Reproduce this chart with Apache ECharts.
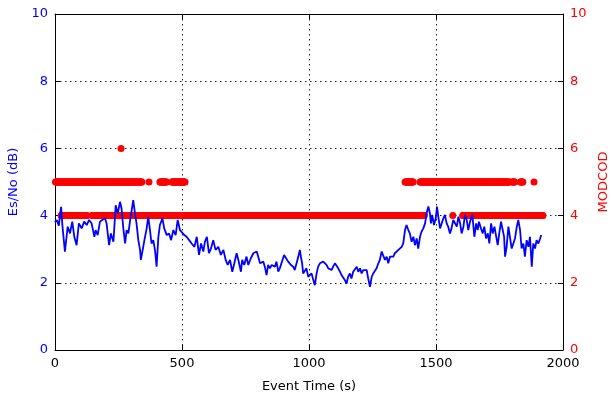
<!DOCTYPE html>
<html>
<head>
<meta charset="utf-8">
<script src="https://cdn.jsdelivr.net/npm/echarts@6/dist/echarts.min.js"></script>
<style>
  html, body { margin: 0; padding: 0; background: #fff; }
  #chart { width: 611px; height: 398px; }
</style>
</head>
<body>
<div id="chart"></div>
<script>
// ===== data =====
const X_TICKS = [0, 500, 1000, 1500, 2000];
const Y_TICKS = [0, 2, 4, 6, 8, 10];

// Es/No (dB) vs event time (s)
const esnoTime = [
  0, 7, 15, 24, 29, 39, 50, 59, 68, 76, 85, 94, 105, 115, 125, 134, 144, 155, 160, 168,
  177, 186, 197, 203, 213, 220, 230, 239, 247, 256, 262, 269, 276, 282, 289, 295, 302, 308, 315, 321,
  328, 335, 338, 344, 352, 361, 367, 374, 380, 387, 394, 400, 407, 413, 423, 430, 440, 449, 457, 466,
  475, 483, 492, 499, 509, 518, 528, 538, 549, 558, 567, 575, 584, 590, 598, 606, 614, 623, 632, 643,
  653, 663, 672, 680, 689, 698, 706, 715, 722, 732, 737, 745, 754, 761, 771, 781, 787, 794, 800, 807,
  813, 820, 826, 833, 839, 846, 853, 859, 866, 872, 879, 885, 892, 902, 908, 918, 929, 938, 944, 951,
  958, 964, 968, 973, 977, 984, 990, 997, 1003, 1010, 1017, 1023, 1030, 1036, 1043, 1049, 1056, 1062, 1069, 1076,
  1082, 1089, 1095, 1102, 1108, 1115, 1122, 1128, 1135, 1141, 1148, 1154, 1161, 1167, 1174, 1181, 1188, 1194, 1201, 1207,
  1214, 1220, 1227, 1233, 1240, 1247, 1253, 1260, 1266, 1273, 1279, 1286, 1293, 1299, 1306, 1312, 1319, 1325, 1332, 1338,
  1345, 1352, 1358, 1365, 1371, 1378, 1384, 1391, 1397, 1404, 1411, 1417, 1424, 1430, 1437, 1443, 1450, 1457, 1463, 1470,
  1476, 1480, 1485, 1492, 1499, 1504, 1509, 1516, 1522, 1529, 1535, 1542, 1548, 1555, 1561, 1568, 1575, 1582, 1588, 1595,
  1601, 1608, 1614, 1621, 1627, 1634, 1643, 1651, 1658, 1664, 1669, 1677, 1684, 1690, 1697, 1704, 1710, 1717, 1723, 1730,
  1736, 1743, 1749, 1756, 1761, 1768, 1772, 1778, 1785, 1791, 1798, 1805, 1811, 1818, 1824, 1831, 1837, 1844, 1850, 1857,
  1864, 1870, 1877, 1883, 1890, 1896, 1903, 1910, 1914,
];
const esnoDb = [
  3.80, 3.87, 3.70, 4.26, 3.72, 2.93, 3.67, 3.47, 3.82, 3.37, 3.12, 3.77, 3.62, 3.82, 3.72, 3.87, 3.77, 3.37, 3.57, 3.42,
  3.82, 3.87, 3.92, 3.77, 3.12, 3.47, 3.22, 4.31, 4.06, 4.41, 4.21, 3.62, 3.17, 3.57, 3.47, 3.82, 4.16, 4.46, 4.06, 3.77,
  3.27, 2.97, 2.68, 2.93, 3.27, 3.62, 3.97, 3.57, 3.17, 3.27, 2.95, 2.48, 3.37, 3.72, 3.92, 3.62, 3.42, 3.47, 3.27, 3.57,
  3.42, 3.87, 3.57, 3.62, 3.42, 3.37, 3.27, 3.17, 3.07, 3.37, 2.83, 3.17, 2.93, 3.22, 3.37, 2.88, 3.02, 3.27, 2.98, 3.07,
  2.83, 2.98, 2.68, 2.53, 2.68, 2.33, 2.58, 2.88, 2.68, 2.33, 2.68, 2.53, 2.78, 2.53, 2.73, 2.88, 2.83, 2.93, 2.78, 2.58,
  2.53, 2.63, 2.48, 2.23, 2.53, 2.43, 2.53, 2.58, 2.48, 2.63, 2.33, 2.43, 2.38, 2.83, 2.78, 2.63, 2.53, 2.48, 2.38, 2.43,
  2.78, 2.98, 2.78, 2.58, 2.28, 2.33, 2.43, 2.18, 2.13, 2.28, 2.08, 1.93, 2.28, 2.48, 2.58, 2.53, 2.63, 2.58, 2.53, 2.43,
  2.48, 2.38, 2.48, 2.58, 2.53, 2.43, 2.33, 2.23, 2.18, 2.08, 1.98, 2.18, 2.28, 2.13, 2.33, 2.28, 2.48, 2.33, 2.43, 2.28,
  2.38, 2.33, 2.38, 2.13, 1.88, 2.18, 2.28, 2.33, 2.43, 2.58, 2.68, 2.93, 2.88, 2.68, 2.78, 2.58, 2.78, 2.83, 2.78, 2.88,
  2.93, 2.98, 2.93, 3.07, 3.17, 3.57, 3.72, 3.57, 3.47, 3.22, 3.37, 3.12, 3.32, 3.02, 3.37, 3.52, 3.62, 3.77, 4.07, 4.27,
  4.07, 3.77, 4.02, 3.72, 3.92, 4.27, 3.97, 3.62, 3.67, 3.92, 4.02, 3.77, 3.67, 3.47, 3.62, 3.87, 3.82, 3.67, 3.97, 3.77,
  3.47, 3.67, 4.02, 3.87, 3.57, 3.82, 4.02, 3.37, 3.77, 3.57, 3.82, 3.62, 3.47, 3.67, 3.32, 3.47, 3.17, 3.77, 3.47, 3.67,
  3.42, 3.12, 3.47, 3.82, 3.87, 3.37, 2.78, 3.07, 3.67, 3.37, 3.02, 2.98, 3.32, 3.67, 3.87, 3.57, 3.02, 3.17, 2.78, 3.27,
  3.07, 3.37, 2.48, 3.17, 3.02, 3.27, 3.17, 3.32, 3.42,
];

// MODCOD log, run-length encoded: [first sample, last sample] in s for each level
const MODCOD_DT = 2;
const modcod4 = [[24, 126], [146, 189], [197, 250], [260, 316], [324, 1455], [1566, 1566], [1605, 1922]];
const modcod5 = [[2, 342], [370, 370], [413, 440], [460, 512], [1378, 1410], [1437, 1790], [1800, 1810], [1832, 1842], [1886, 1886]];
const modcod6 = [[260, 260]];

// ---- helpers ----
const BLUE = '#0000ff', RED = '#ff0000', FONT = 'DejaVu Sans';
const samples = (runs, lvl) => runs.flatMap(([a, b]) => {
  const out = [];
  for (let t = a; t <= b; t += MODCOD_DT) out.push([t, lvl]);
  return out;
});
const plain = v => String(v);
const frame = { show: true, onZero: false, lineStyle: { color: '#000', width: 1 } };
const tick = { show: true, inside: true, length: 5, lineStyle: { color: '#000' } };
const grid = { show: true, lineStyle: { color: '#222', width: 1, type: [1.5, 3.5] } };

const chart = echarts.init(document.getElementById('chart'), null, { renderer: 'canvas' });
chart.setOption({
  animation: false,
  textStyle: { fontFamily: FONT },
  grid: { left: 55, right: 48, top: 14, bottom: 48, containLabel: false, outerBoundsMode: 'none' },
  xAxis: [
    {
      type: 'value', min: X_TICKS[0], max: X_TICKS[X_TICKS.length - 1], interval: 500,
      name: 'Event Time (s)', nameLocation: 'middle', nameGap: 30,
      nameTextStyle: { color: '#000', fontSize: 13, fontFamily: FONT },
      axisLine: frame, axisTick: tick, splitLine: grid,
      axisLabel: { color: '#000', fontSize: 13, margin: 7, fontFamily: FONT, formatter: plain },
    },
    {
      type: 'value', position: 'top', min: 0, max: 2000, interval: 500,
      axisLine: frame, axisTick: tick, splitLine: { show: false }, axisLabel: { show: false },
    },
  ],
  yAxis: [
    {
      type: 'value', position: 'left', min: Y_TICKS[0], max: Y_TICKS[Y_TICKS.length - 1], interval: 2,
      name: 'Es/No (dB)', nameLocation: 'middle', nameGap: 34,
      nameTextStyle: { color: BLUE, fontSize: 13, fontFamily: FONT },
      axisLine: frame, axisTick: tick, splitLine: grid,
      axisLabel: { color: BLUE, fontSize: 13, margin: 7, fontFamily: FONT, formatter: plain },
    },
    {
      type: 'value', position: 'right', min: 0, max: 10, interval: 2,
      name: 'MODCOD', nameLocation: 'middle', nameGap: 32,
      nameTextStyle: { color: RED, fontSize: 13, fontFamily: FONT },
      axisLine: frame, axisTick: tick, splitLine: { show: false },
      axisLabel: { color: RED, fontSize: 13, margin: 7, fontFamily: FONT, formatter: plain },
    },
  ],
  series: [
    {
      name: 'Es/No', type: 'line', xAxisIndex: 0, yAxisIndex: 0,
      data: esnoTime.map((t, i) => [t, esnoDb[i]]),
      showSymbol: false, symbol: 'none',
      lineStyle: { color: BLUE, width: 1.8 },
    },
    {
      name: 'MODCOD', type: 'scatter', xAxisIndex: 0, yAxisIndex: 1,
      data: [...samples(modcod4, 4), ...samples(modcod5, 5), ...samples(modcod6, 6)],
      symbol: 'circle', symbolSize: 7,
      itemStyle: { color: RED, opacity: 1 },
    },
  ],
});
window.addEventListener('resize', () => chart.resize());
</script>
</body>
</html>
